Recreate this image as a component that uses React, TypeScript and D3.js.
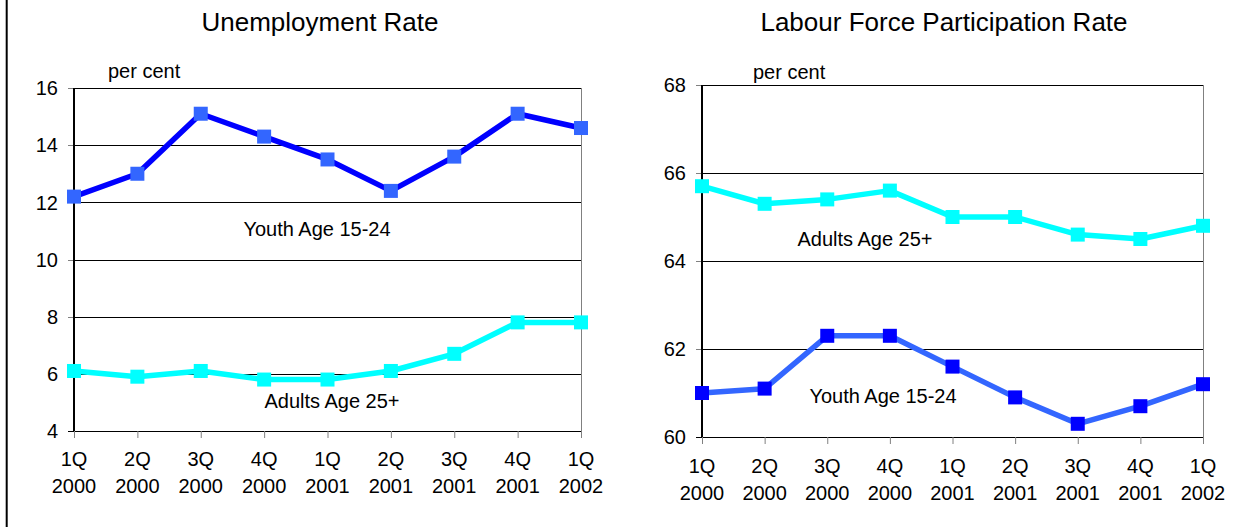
import React from 'react'
import * as d3 from 'd3'

const quarters = ['1Q', '2Q', '3Q', '4Q', '1Q', '2Q', '3Q', '4Q', '1Q']
const years = ['2000', '2000', '2000', '2000', '2001', '2001', '2001', '2001', '2002']
const categories = quarters.map((q, i) => `${q} ${years[i]}`)

// Unemployment rate (per cent)
const unempYouth = [12.2, 13.0, 15.1, 14.3, 13.5, 12.4, 13.6, 15.1, 14.6]
const unempAdults = [6.1, 5.9, 6.1, 5.8, 5.8, 6.1, 6.7, 7.8, 7.8]
const unempTicks = [4, 6, 8, 10, 12, 14, 16]

// Labour force participation rate (per cent)
const partAdults = [65.7, 65.3, 65.4, 65.6, 65.0, 65.0, 64.6, 64.5, 64.8]
const partYouth = [61.0, 61.1, 62.3, 62.3, 61.6, 60.9, 60.3, 60.7, 61.2]
const partTicks = [60, 62, 64, 66, 68]

const FONT = '"Liberation Sans", Arial, sans-serif'
const BLUE = '#0000ff'
const MID = '#3366ff'
const CYAN = '#00ffff'

type Series = { values: number[]; line: string; marker: string }
type Note = { text: string; x: number; y: number }

const Panel = ({ title, titleX, ticks, left, right, top, bottom, labelY, series, notes, perCentX, perCentY }: {
  title: string; titleX: number; ticks: number[]; left: number; right: number; top: number; bottom: number;
  labelY: number; series: Series[]; notes: Note[]; perCentX: number; perCentY: number
}) => {
  const x = d3.scalePoint<string>().domain(categories).range([left, right])
  const y = d3.scaleLinear().domain([ticks[0], ticks[ticks.length - 1]]).range([bottom, top])
  const line = d3.line<number>().x((_, i) => x(categories[i])!).y(d => y(d))
  const ms = 14
  const py = (v: number) => Math.round(y(v)) + 0.5

  return (
    <g fontFamily={FONT} fill="#000">
      <text x={titleX} y={31} fontSize={26} textAnchor="middle">{title}</text>
      <text x={perCentX} y={perCentY} fontSize={20}>per cent</text>
      {ticks.map(t => (
        <g key={t}>
          {t !== ticks[0] && <line x1={left} x2={right} y1={py(t)} y2={py(t)} stroke="#000" />}
          <line x1={left - 6} x2={left} y1={py(t)} y2={py(t)} stroke="#808080" />
          <text x={left - 16} y={y(t)} dy="0.36em" fontSize={20} textAnchor="end">{t}</text>
        </g>
      ))}
      <line x1={right + 0.5} x2={right + 0.5} y1={top} y2={bottom} stroke="#808080" />
      <line x1={left} x2={left} y1={top} y2={bottom + 1} stroke="#000" strokeWidth={2} />
      <line x1={left - 6} x2={right} y1={bottom + 0.5} y2={bottom + 0.5} stroke="#000" />
      {categories.map((c, i) => (
        <g key={c}>
          <line x1={x(c)! + 0.5} x2={x(c)! + 0.5} y1={bottom} y2={bottom + 7} stroke="#808080" />
          <text x={x(c)} y={labelY} fontSize={20} textAnchor="middle">{quarters[i]}</text>
          <text x={x(c)} y={labelY + 27} fontSize={20} textAnchor="middle">{years[i]}</text>
        </g>
      ))}
      {series.map((s, k) => (
        <g key={k}>
          <path d={line(s.values)!} fill="none" stroke={s.line} strokeWidth={5.5} strokeLinejoin="round" />
          {s.values.map((v, i) => (
            <rect key={i} x={x(categories[i])! - ms / 2} y={y(v) - ms / 2} width={ms} height={ms} fill={s.marker} />
          ))}
        </g>
      ))}
      {notes.map(n => (
        <text key={n.text} x={n.x} y={n.y} fontSize={20} textAnchor="middle">{n.text}</text>
      ))}
    </g>
  )
}

const App = () => (
  <svg width={1253} height={527} style={{ position: 'absolute', left: 0, top: 0, background: '#fff' }}>
    <rect width={1253} height={527} fill="#fff" />
    <line x1={6.7} x2={6.7} y1={0} y2={527} stroke="#000" strokeWidth={2} />
    <Panel
      title="Unemployment Rate" titleX={320} ticks={unempTicks}
      left={74} right={581} top={88} bottom={431} labelY={466}
      perCentX={108} perCentY={78}
      series={[
        { values: unempYouth, line: BLUE, marker: MID },
        { values: unempAdults, line: CYAN, marker: CYAN },
      ]}
      notes={[
        { text: 'Youth Age 15-24', x: 317, y: 236 },
        { text: 'Adults Age 25+', x: 332, y: 408 },
      ]}
    />
    <Panel
      title="Labour Force Participation Rate" titleX={944} ticks={partTicks}
      left={702} right={1203} top={85} bottom={437} labelY={473}
      perCentX={753} perCentY={79}
      series={[
        { values: partAdults, line: CYAN, marker: CYAN },
        { values: partYouth, line: MID, marker: BLUE },
      ]}
      notes={[
        { text: 'Adults Age 25+', x: 865, y: 246 },
        { text: 'Youth Age 15-24', x: 883, y: 403 },
      ]}
    />
  </svg>
)

export default App
